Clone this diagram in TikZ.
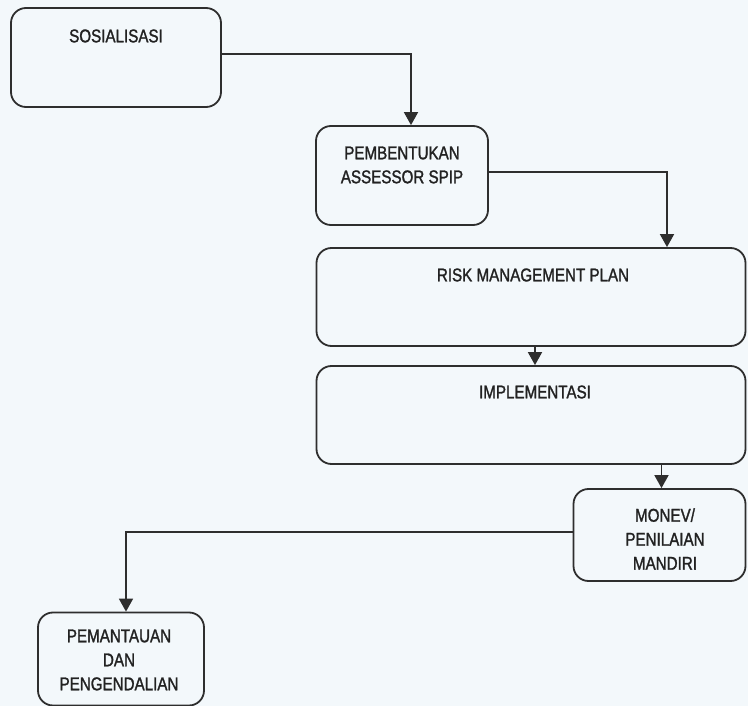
\documentclass[tikz,border=0pt]{standalone}
\usepackage{fontspec}
\setmainfont{Liberation Sans}[FakeStretch=0.82,FakeBold=1.4]
\usetikzlibrary{arrows.meta}
\definecolor{paper}{HTML}{F3F8FB}
\definecolor{ink}{HTML}{2E2E2E}
\definecolor{letter}{HTML}{222222}
\begin{document}
\begin{tikzpicture}[x=1pt,y=-1pt,
  stage/.style={draw=ink, line width=1.8pt, rounded corners=15pt, inner sep=0pt},
  caption/.style={font=\fontsize{18.5}{24}\selectfont, text=letter, align=center, inner sep=0pt},
  flow/.style={draw=ink, line width=1.8pt, -{Triangle[width=14pt,length=13pt]}}]
  % page
  \fill[paper] (0,0) rectangle (748,706);
  \useasboundingbox (0,0) rectangle (748,706);

  % stages
  \node[stage, minimum width=210pt, minimum height=99pt] (s1) at (116,57.5) {};
  \node[stage, minimum width=172pt, minimum height=99pt] (s2) at (402,175.5) {};
  \node[stage, minimum width=429pt, minimum height=98pt] (s3) at (531,297) {};
  \node[stage, minimum width=429pt, minimum height=98pt] (s4) at (531,415) {};
  \node[stage, minimum width=172pt, minimum height=92pt] (s5) at (659.5,535) {};
  \node[stage, minimum width=166pt, minimum height=93pt] (s6) at (121,659) {};

  % captions
  \node[caption] (t1) at (116,36) {SOSIALISASI};
  \node[caption] (t2) at (402,165) {PEMBENTUKAN\\ASSESSOR SPIP};
  \node[caption] (t3) at (533,275) {RISK MANAGEMENT PLAN};
  \node[caption] (t4) at (535,392) {IMPLEMENTASI};
  \node[caption] (t5) at (665,539) {MONEV/\\PENILAIAN\\MANDIRI};
  \node[caption] (t6) at (119,660) {PEMANTAUAN\\DAN\\PENGENDALIAN};

  % connectors
  \draw[flow] ([yshift=3.5pt]s1.east) -| ([xshift=9pt]s2.north);
  \draw[flow] ([yshift=3.5pt]s2.east) -| ([xshift=136pt]s3.north);
  \draw[flow] ([xshift=4pt]s3.south) -- ([xshift=4pt]s4.north);
  \draw[flow] ([xshift=2pt]s5.north |- s4.south) -- ([xshift=2pt]s5.north);
  \draw[flow] ([yshift=3pt]s5.west) -| ([xshift=5pt]s6.north);
\end{tikzpicture}
\end{document}
